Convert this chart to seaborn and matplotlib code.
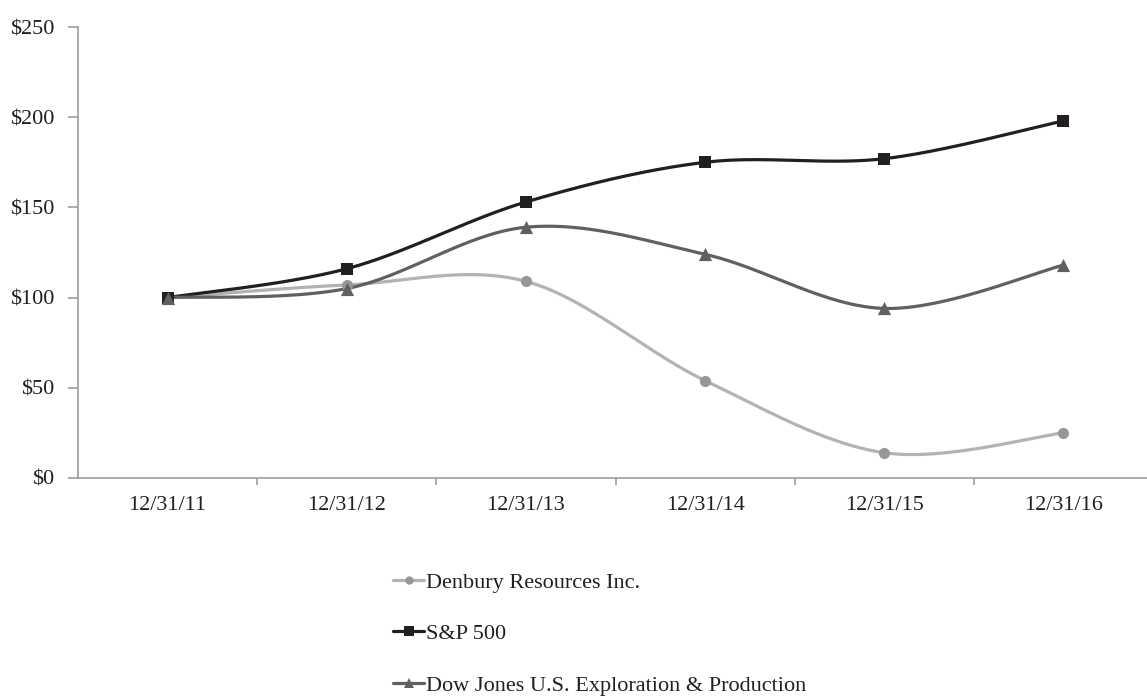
import numpy as np
import pandas as pd
import matplotlib
matplotlib.use("Agg")
import matplotlib.pyplot as plt
import seaborn as sns
from matplotlib.lines import Line2D
from matplotlib.ticker import FuncFormatter, FixedLocator

# ---- data ----
dates = ["12/31/11", "12/31/12", "12/31/13", "12/31/14", "12/31/15", "12/31/16"]
denbury = [100, 107, 109, 54, 14, 25]
sp500 = [100, 116, 153, 175, 177, 198]
dowjones = [100, 105, 139, 124, 94, 118]
series_names = ["Denbury Resources Inc.", "S&P 500", "Dow Jones U.S. Exploration & Production"]
yticks = [0, 50, 100, 150, 200, 250]

sns.set_theme(style="white")
plt.rcParams["font.family"] = ["Liberation Serif", "DejaVu Serif"]

TXT = "#231f20"
styles = {
    series_names[0]: dict(line="#b3b3b5", mk="#97979a", marker="o", ms=8),
    series_names[1]: dict(line="#231f20", mk="#231f20", marker="s", ms=9),
    series_names[2]: dict(line="#5f6062", mk="#5f6062", marker="^", ms=9.5),
}


def smooth(vals, n=60):
    """Excel-style smoothed line (Catmull-Rom Bezier) through the category points."""
    pts = np.column_stack([np.arange(len(vals), dtype=float), np.asarray(vals, float)])
    out = []
    t = np.linspace(0, 1, n)[:, None]
    for i in range(len(pts) - 1):
        p0 = pts[max(i - 1, 0)]
        p1 = pts[i]
        p2 = pts[i + 1]
        p3 = pts[min(i + 2, len(pts) - 1)]
        c1 = p1 + (p2 - p0) / 6.0
        c2 = p2 - (p3 - p1) / 6.0
        seg = ((1 - t) ** 3) * p1 + 3 * ((1 - t) ** 2) * t * c1 + 3 * (1 - t) * t ** 2 * c2 + t ** 3 * p2
        out.append(seg if i == 0 else seg[1:])
    return np.vstack(out)


W, H = 1147, 698
fig = plt.figure(figsize=(W / 100, H / 100), dpi=100)
ax = fig.add_axes([78 / W, 1 - 478 / H, 1075 / W, (478 - 27) / H])

all_series = [denbury, sp500, dowjones]
for name, vals in zip(series_names, all_series):
    st = styles[name]
    curve = smooth(vals)
    dfc = pd.DataFrame({"x": curve[:, 0], "y": curve[:, 1]})
    sns.lineplot(data=dfc, x="x", y="y", sort=False, estimator=None, ax=ax,
                 color=st["line"], linewidth=2.3, legend=False)
for name, vals in zip(series_names, all_series):
    st = styles[name]
    dfp = pd.DataFrame({"x": np.arange(len(dates)), "y": vals})
    sns.scatterplot(data=dfp, x="x", y="y", ax=ax, marker=st["marker"], s=st["ms"] ** 2,
                    color=st["mk"], edgecolor=st["mk"], linewidth=0, legend=False, zorder=5)

ax.set_xlim(-0.5, len(dates) - 0.5)
ax.set_ylim(0, 250)
ax.set_xlabel("")
ax.set_ylabel("")

ax.set_yticks(yticks)
ax.yaxis.set_major_formatter(FuncFormatter(lambda v, p: f"${v:,.0f}"))
ax.set_xticks(range(len(dates)))
ax.set_xticklabels(dates)
ax.xaxis.set_minor_locator(FixedLocator(np.arange(0.5, len(dates) - 0.5, 1)))

for s in ["top", "right"]:
    ax.spines[s].set_visible(False)
for s in ["left", "bottom"]:
    ax.spines[s].set_color("#9d9d9f")
    ax.spines[s].set_linewidth(1.2)

ax.tick_params(axis="y", which="major", left=True, length=7, width=1.2, color="#9d9d9f",
               labelsize=16, labelcolor=TXT, pad=10)
ax.tick_params(axis="x", which="major", bottom=False, length=0, labelsize=16, labelcolor=TXT, pad=13)
ax.tick_params(axis="x", which="minor", bottom=True, length=5, width=1.2, color="#9d9d9f")
ax.grid(False)

handles = []
for name in series_names:
    st = styles[name]
    handles.append(Line2D([0], [0], color=st["line"], lw=2.3, marker=st["marker"],
                          markersize=st["ms"] * 0.75, markerfacecolor=st["mk"],
                          markeredgecolor=st["mk"], markeredgewidth=0))
fig.legend(handles, series_names, loc="upper left", bbox_to_anchor=(393 / W, 1 - 572 / H),
           frameon=False, fontsize=16, handlelength=1.4, handletextpad=0.1,
           labelspacing=1.4, borderaxespad=0, borderpad=0, labelcolor=TXT)

fig.savefig("out.png", dpi=100)
